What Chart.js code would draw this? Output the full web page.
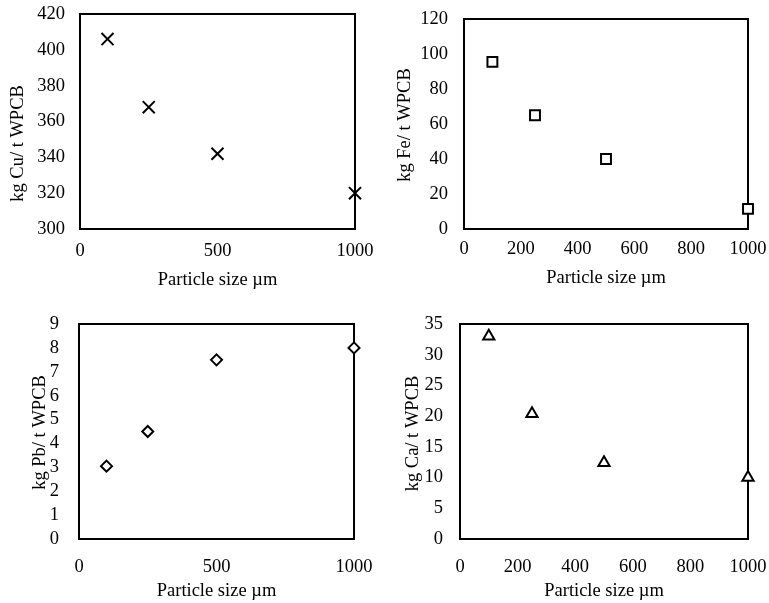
<!DOCTYPE html>
<html>
<head>
<meta charset="utf-8">
<script src="https://cdn.jsdelivr.net/npm/chart.js@4"></script>
<style>
  body { margin: 0; background: #fff; }
  #wrap { position: relative; width: 769px; height: 603px; }
  #wrap canvas { position: absolute; }
</style>
</head>
<body>
<div id="wrap">
  <canvas id="cu" width="380" height="300" style="left:0;top:0"></canvas>
  <canvas id="fe" width="389" height="300" style="left:380px;top:0"></canvas>
  <canvas id="pb" width="380" height="303" style="left:0;top:300px"></canvas>
  <canvas id="ca" width="389" height="303" style="left:380px;top:300px"></canvas>
</div>
<script>
// particle sizes (µm), same for all four panels
const sizes = [100, 250, 500, 1000];

// kg metal per t WPCB
const cuValues = [406, 368, 342, 320];
const feValues = [95.5, 65, 40, 11.5];
const pbValues = [3.05, 4.5, 7.5, 8];
const caValues = [33, 20.4, 12.4, 10];

// axis ranges [min, max, step]
const xRangeCoarse = [0, 1000, 500];
const xRangeFine = [0, 1000, 200];
const cuRange = [300, 420, 20];
const feRange = [0, 120, 20];
const pbRange = [0, 9, 1];
const caRange = [0, 35, 5];

const xTitle = 'Particle size µm';

Chart.defaults.color = '#000';
Chart.defaults.font.family = '"Liberation Serif", "Times New Roman", serif';
Chart.defaults.font.size = 18.5;

// box round the plot area
const frame = {
  id: 'frame',
  beforeDatasetsDraw(chart) {
    const a = chart.chartArea, ctx = chart.ctx;
    ctx.save();
    ctx.strokeStyle = '#000';
    ctx.lineWidth = 2;
    ctx.strokeRect(a.left, a.top, a.right - a.left, a.bottom - a.top);
    ctx.restore();
  }
};

// rotated y title (Excel places it a bit off centre sometimes)
const yTitle = {
  id: 'yTitle',
  afterDraw(chart, args, opts) {
    const a = chart.chartArea, ctx = chart.ctx;
    ctx.save();
    ctx.translate(opts.x, (a.top + a.bottom) / 2 + opts.shift);
    ctx.rotate(-Math.PI / 2);
    ctx.font = '18.5px "Liberation Serif", serif';
    ctx.fillStyle = '#000';
    ctx.textAlign = 'center';
    ctx.textBaseline = 'middle';
    ctx.fillText(opts.text, 0, 0);
    ctx.restore();
  }
};

// labels may hang outside, don't let them push the plot area
function noPad(s) {
  s.paddingTop = s.paddingBottom = s.paddingLeft = s.paddingRight = 0;
}

function makeChart(id, p) {
  const canvas = document.getElementById(id);
  const W = canvas.width, H = canvas.height;
  new Chart(canvas, {
    type: 'scatter',
    data: {
      datasets: [{
        data: sizes.map((s, i) => ({ x: s, y: p.values[i] })),
        pointStyle: p.marker,
        pointRadius: p.radius,
        pointHoverRadius: p.radius,
        pointBorderWidth: 2,
        pointBorderColor: '#000',
        pointBackgroundColor: '#fff',
        clip: false
      }]
    },
    plugins: [frame, yTitle],
    options: {
      responsive: false,
      animation: false,
      layout: { padding: { left: 0, top: p.area[1], right: W - p.area[2], bottom: 0 } },
      plugins: {
        legend: { display: false },
        tooltip: { enabled: false },
        yTitle: { text: p.yLabel, x: p.yTitleX, shift: p.yShift }
      },
      scales: {
        x: {
          type: 'linear',
          min: p.xRange[0], max: p.xRange[1],
          grid: { display: false, drawTicks: false },
          border: { display: false },
          ticks: { stepSize: p.xRange[2], padding: p.xPad, autoSkip: false, maxRotation: 0, callback: v => String(v) },
          title: { display: true, text: xTitle, padding: { top: 0, bottom: p.xTitlePad } },
          afterFit(s) { s.height = H - p.area[3]; noPad(s); }
        },
        y: {
          min: p.yRange[0], max: p.yRange[1],
          grid: { display: false, drawTicks: false },
          border: { display: false },
          ticks: { stepSize: p.yRange[2], padding: p.yPad, autoSkip: false, callback: v => String(v) },
          afterFit(s) { s.width = p.area[0]; noPad(s); }
        }
      }
    }
  });
}

makeChart('cu', {
  values: cuValues, marker: 'crossRot', radius: 8.5,
  xRange: xRangeCoarse, yRange: cuRange, yLabel: 'kg Cu/ t WPCB',
  area: [80, 14, 355, 229], xPad: 11, xTitlePad: 9, yPad: 15, yTitleX: 18, yShift: 22
});
makeChart('fe', {
  values: feValues, marker: 'rect', radius: 7,
  xRange: xRangeFine, yRange: feRange, yLabel: 'kg Fe/ t WPCB',
  area: [84, 19, 368, 229], xPad: 9, xTitlePad: 11, yPad: 16, yTitleX: 25, yShift: 1
});
makeChart('pb', {
  values: pbValues, marker: 'rectRot', radius: 5.5,
  xRange: xRangeCoarse, yRange: pbRange, yLabel: 'kg Pb/ t WPCB',
  area: [79, 24, 354, 239], xPad: 17, xTitlePad: 1, yPad: 20, yTitleX: 40, yShift: 1
});
makeChart('ca', {
  values: caValues, marker: 'triangle', radius: 6.5,
  xRange: xRangeFine, yRange: caRange, yLabel: 'kg Ca/ t WPCB',
  area: [80, 24, 368, 239], xPad: 17, xTitlePad: 1, yPad: 17, yTitleX: 33, yShift: 2
});
</script>
</body>
</html>
